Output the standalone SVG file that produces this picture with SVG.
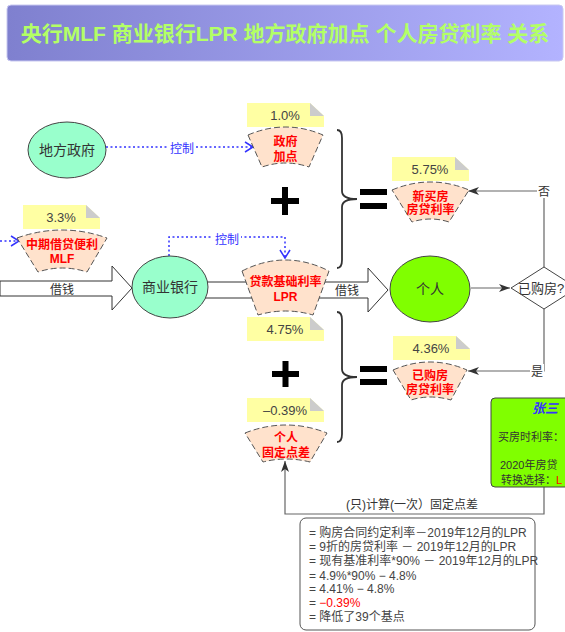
<svg xmlns="http://www.w3.org/2000/svg" width="565" height="632" viewBox="0 0 565 632">
<defs>
<linearGradient id="tg" x1="0" y1="0" x2="1" y2="0">
<stop offset="0" stop-color="#7f80cf"/>
<stop offset="1" stop-color="#b3b3ff"/>
</linearGradient>
<marker id="chev" markerWidth="12" markerHeight="12" refX="9" refY="6" orient="auto" markerUnits="userSpaceOnUse">
<path d="M1,1 L9,6 L1,11" fill="none" stroke="#3333ff" stroke-width="1.5"/>
</marker>
<marker id="tri" markerWidth="12" markerHeight="10" refX="11" refY="5" orient="auto" markerUnits="userSpaceOnUse">
<path d="M0,1 L11,5 L0,9 L3,5 Z" fill="#333"/>
</marker>
</defs>
<style>
text{font-family:"Liberation Sans","Noto Sans CJK SC",sans-serif}
.ell{stroke:#444;stroke-width:1}
.mint{fill:#99ffcc}
.lime{fill:#80ff00}
.nt{font-size:14px;fill:#333;text-anchor:middle}
.sec{fill:#ffe2cc;stroke:#555;stroke-width:1;stroke-dasharray:6 3}
.st{font-size:12px;font-weight:bold;fill:#ff0000;text-anchor:middle}
.note{fill:#ffffa3}
.fold{fill:#cccccc}
.pt{font-size:13px;fill:#444;text-anchor:middle}
.ctl{fill:none;stroke:#3333ff;stroke-width:1.5;stroke-dasharray:2 2.5}
.ctlt{font-size:12px;fill:#3333ff;text-anchor:middle}
.big{fill:#fff;stroke:#333;stroke-width:1}
.lbl{font-size:12px;fill:#333;text-anchor:middle}
.ln{fill:none;stroke:#666;stroke-width:1.2}
.brace{fill:none;stroke:#333;stroke-width:1.8}
.sym{fill:#000}
.mt{font-size:12px;fill:#444}
.zt{font-size:11px;fill:#333}
</style>

<g id="title">
<rect x="7" y="5" width="556" height="56" rx="4" fill="url(#tg)" stroke="#c8c8f0" stroke-width="1"/>
<text x="285" y="41" font-size="21" font-weight="bold" fill="#b3ff66" text-anchor="middle">央行MLF 商业银行LPR 地方政府加点 个人房贷利率 关系</text>
</g>

<g id="connectors">
<polygon class="big" points="0,281 112,281 112,266 132,288 112,310 112,296 0,296"/>
<text class="lbl" x="62" y="294">借钱</text>
<polygon class="big" points="200,282 368,282 368,268 388,290 368,312 368,298 200,298"/>
<text class="lbl" x="347" y="295">借钱</text>
<path class="ctl" d="M106,147 H253" marker-end="url(#chev)"/>
<rect x="168" y="141" width="28" height="14" fill="#fff"/>
<text class="ctlt" x="182" y="153">控制</text>
<path class="ctl" d="M0,241 H19" marker-end="url(#chev)"/>
<path class="ctl" d="M169,256 V237 H285 V258" marker-end="url(#chev)"/>
<rect x="213" y="231" width="28" height="14" fill="#fff"/>
<text class="ctlt" x="227" y="244">控制</text>
<path class="ln" d="M471,288 H510" marker-end="url(#tri)"/>
<path class="ln" d="M544,267 V191 H468" marker-end="url(#tri)"/>
<rect x="537" y="184" width="14" height="14" fill="#fff"/>
<text class="lbl" x="544" y="195.5">否</text>
<path class="ln" d="M544,309 V371 H468" marker-end="url(#tri)"/>
<rect x="530" y="364" width="14" height="14" fill="#fff"/>
<text class="lbl" x="537" y="375.5">是</text>
<path class="ln" d="M544,487 V514 H285 V461" marker-end="url(#tri)"/>
<text class="lbl" x="412" y="509">(只)计算(一次）固定点差</text>
</g>

<g id="gov">
<ellipse class="ell mint" cx="67" cy="150" rx="39" ry="28"/>
<text class="nt" x="67" y="155">地方政府</text>
</g>

<g id="bank">
<ellipse class="ell mint" cx="170" cy="287" rx="38" ry="31"/>
<text class="nt" x="170" y="292">商业银行</text>
</g>

<g id="person">
<ellipse class="ell lime" cx="430" cy="289" rx="40" ry="33"/>
<text class="nt" x="430" y="294">个人</text>
</g>

<g id="decision">
<polygon points="544,267 577,288 544,309 511,288" fill="#fff" stroke="#444" stroke-width="1"/>
<text class="nt" x="541" y="293" style="font-size:13px">已购房?</text>
</g>

<g id="note-gov">
<polygon class="note" points="247,103 310,103 324,116 324,127 247,127"/>
<polygon class="fold" points="310,103 310,116 324,116"/>
<text class="pt" x="285" y="120">1.0%</text>
</g>
<g id="gov-plus">
<path class="sec" d="M248,135 Q285.5,119 323,135 L309,167 Q285.5,159 262,167 Z"/>
<text class="st" x="285.5" y="146">政府</text>
<text class="st" x="285.5" y="161">加点</text>
</g>

<g id="note-mlf">
<polygon class="note" points="23,205 86,205 100,218 100,229 23,229"/>
<polygon class="fold" points="86,205 86,218 100,218"/>
<text class="pt" x="61" y="222">3.3%</text>
</g>
<g id="mlf">
<path class="sec" d="M17,238 Q62,222 107,238 L87,272 Q62,264 38,272 Z"/>
<text class="st" x="62" y="249">中期借贷便利</text>
<text class="st" x="62" y="263">MLF</text>
</g>

<g id="lpr">
<path class="sec" d="M242,271 Q285.5,249 329,271 L313,315 Q285.5,307 258,315 Z"/>
<text class="st" x="285.5" y="286">贷款基础利率</text>
<text class="st" x="285.5" y="301">LPR</text>
</g>
<g id="note-lpr">
<polygon class="note" points="247,317 310,317 324,330 324,341 247,341"/>
<polygon class="fold" points="310,317 310,330 324,330"/>
<text class="pt" x="285" y="334">4.75%</text>
</g>

<g id="note-new">
<polygon class="note" points="392,157 455,157 469,170 469,181 392,181"/>
<polygon class="fold" points="455,157 455,170 469,170"/>
<text class="pt" x="430" y="174">5.75%</text>
</g>
<g id="new-rate">
<path class="sec" d="M392,190 Q430.5,174 469,190 L449,222 Q430.5,216 412,222 Z"/>
<text class="st" x="430.5" y="201">新买房</text>
<text class="st" x="430.5" y="214">房贷利率</text>
</g>

<g id="note-old">
<polygon class="note" points="393,336 456,336 470,349 470,360 393,360"/>
<polygon class="fold" points="456,336 456,349 470,349"/>
<text class="pt" x="431" y="353">4.36%</text>
</g>
<g id="old-rate">
<path class="sec" d="M393,370 Q430,354 467,370 L451,400 Q430,394 411,400 Z"/>
<text class="st" x="430" y="380">已购房</text>
<text class="st" x="430" y="394">房贷利率</text>
</g>

<g id="note-fixed">
<polygon class="note" points="247,398 310,398 324,411 324,422 247,422"/>
<polygon class="fold" points="310,398 310,411 324,411"/>
<text class="pt" x="285" y="415">–0.39%</text>
</g>
<g id="fixed">
<path class="sec" d="M245,433 Q286,417 327,433 L310,462 Q286,456 263,462 Z"/>
<text class="st" x="286" y="442">个人</text>
<text class="st" x="286" y="457">固定点差</text>
</g>

<g id="operators">
<path class="brace" d="M337,130 Q342,130 342,138 L342,191 Q342,199 357,199 Q342,199 342,207 L342,260 Q342,268 337,268"/>
<path class="brace" d="M337,312 Q342,312 342,320 L342,369 Q342,377 357,377 Q342,377 342,385 L342,434 Q342,442 337,442"/>
<rect class="sym" x="271" y="198" width="28" height="6"/>
<rect class="sym" x="282" y="187" width="6" height="28"/>
<rect class="sym" x="272" y="371" width="27" height="6"/>
<rect class="sym" x="282.5" y="361" width="6" height="26"/>
<rect class="sym" x="360" y="189" width="27" height="6"/>
<rect class="sym" x="360" y="203" width="27" height="6"/>
<rect class="sym" x="360" y="366" width="27" height="6"/>
<rect class="sym" x="360" y="379" width="27" height="6"/>
</g>

<g id="zhangsan">
<rect x="491" y="398" width="150" height="89" rx="4" fill="#80ff00" stroke="#444" stroke-width="1"/>
<text x="545" y="413" font-size="13" font-weight="bold" font-style="italic" fill="#3333ff" text-anchor="middle">张三</text>
<text class="zt" x="498" y="441">买房时利率：</text>
<text class="zt" x="500" y="469">2020年房贷</text>
<text class="zt" x="501" y="484">转换选择：<tspan fill="#ff0000">L</tspan></text>
</g>

<g id="calc">
<rect x="300" y="518" width="235" height="112" rx="6" fill="#fff" stroke="#555" stroke-width="1"/>
<text class="mt" x="309" y="537">= 购房合同约定利率－2019年12月的LPR</text>
<text class="mt" x="309" y="551">= 9折的房贷利率 － 2019年12月的LPR</text>
<text class="mt" x="309" y="565">= 现有基准利率*90% － 2019年12月的LPR</text>
<text class="mt" x="309" y="580">= 4.9%*90% − 4.8%</text>
<text class="mt" x="309" y="593">= 4.41% − 4.8%</text>
<text class="mt" x="309" y="607">= <tspan fill="#ff0000">−0.39%</tspan></text>
<text class="mt" x="309" y="621">= 降低了39个基点</text>
</g>
</svg>
